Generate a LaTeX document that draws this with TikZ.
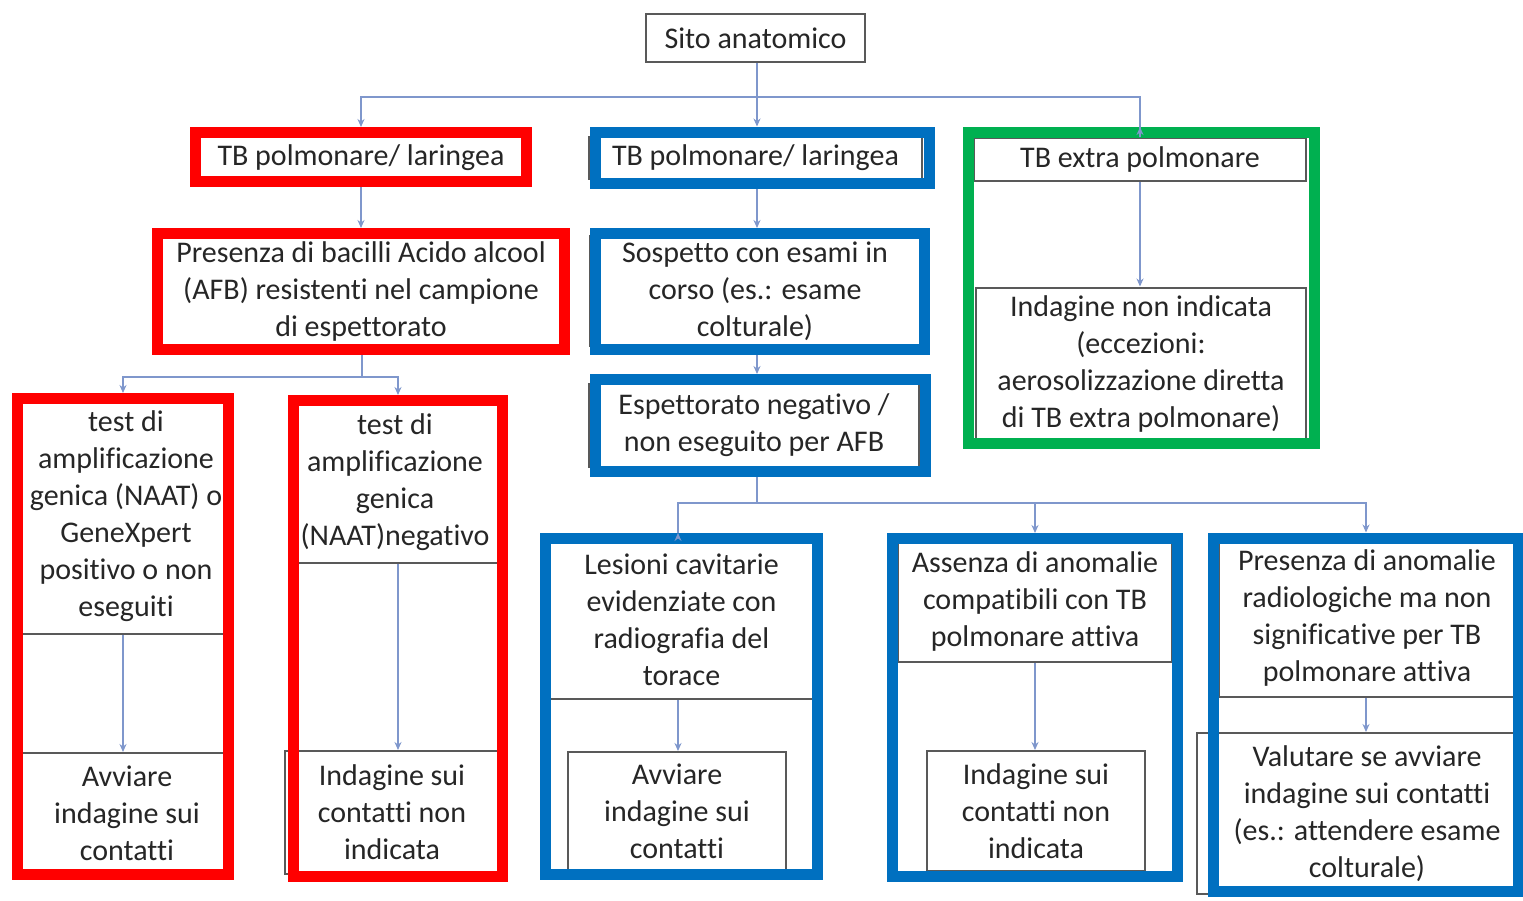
\documentclass[tikz,border=0pt]{standalone}
\usepackage{fontspec}
\setmainfont{Carlito}[Ligatures={NoCommon}]
\usetikzlibrary{arrows.meta}
\definecolor{frRed}{HTML}{FF0000}
\definecolor{frBlue}{HTML}{0070C0}
\definecolor{frGreen}{HTML}{00B050}
\definecolor{conncol}{HTML}{7F97CC}
\definecolor{boxline}{HTML}{595959}
\definecolor{txt}{HTML}{262626}
\tikzset{
  gbox/.style={draw=boxline, line width=2pt, fill=white, align=center, inner sep=0pt,
    text=txt, font=\fontsize{30}{37}\selectfont},
  frame/.style={draw=#1, line width=11pt, inner sep=0pt},
  conn/.style={draw=conncol, line width=1.8pt, -{Stealth[length=8pt,width=7pt]}},
  connl/.style={draw=conncol, line width=1.8pt},
}
\begin{document}
\begin{tikzpicture}[x=1pt,y=-1pt]
\clip (0,0) rectangle (1523,900);
\fill[white] (0,0) rectangle (1523,900);

% ---------- gray boxes ----------
\node[gbox, minimum width=219, minimum height=48] (sito) at (755.5,38) {Sito anatomico};

\node[gbox, minimum width=326, minimum height=45] (tbr) at (361,157.5) {TB polmonare/ laringea};
\node[gbox, minimum width=333, minimum height=42] (tbb) at (755.5,158) {TB polmonare/ laringea};
\node[gbox, minimum width=332, minimum height=43] (tbx) at (1140,159.5) {TB extra polmonare};
\node[gbox, minimum width=330, minimum height=153] (indx) at (1141,364)
  {\raisebox{-4pt}{\parbox{330pt}{\centering Indagine non indicata\\(eccezioni:\\aerosolizzazione diretta\\di TB extra polmonare)}}};

\node[gbox, minimum width=400, minimum height=109] (afb) at (361,291)
  {Presenza di bacilli Acido alcool\\(AFB) resistenti nel campione\\di espettorato};
\node[gbox, minimum width=331, minimum height=110] (sosp) at (755,291)
  {Sospetto con esami in\\corso (es.: esame\\colturale)};
\node[gbox, minimum width=330, minimum height=83] (esp) at (754,425.5)
  {Espettorato negativo /\\non eseguito per AFB};

\node[gbox, minimum width=213, minimum height=235] (naatp) at (126,516.5)
  {test di\\amplificazione\\genica (NAAT) o\\GeneXpert\\positivo o non\\eseguiti};
\node[gbox, minimum width=210, minimum height=121] (avv1) at (127,813.5)
  {Avviare\\indagine sui\\contatti};
\node[gbox, minimum width=210, minimum height=161] (naatn) at (395,482)
  {test di\\amplificazione\\genica\\(NAAT)negativo};
\node[gbox, minimum width=214, minimum height=123] (ind1) at (392,812.5)
  {Indagine sui\\contatti non\\indicata};

\node[gbox, minimum width=265, minimum height=158] (les) at (681.5,620)
  {Lesioni cavitarie\\evidenziate con\\radiografia del\\torace};
\node[gbox, minimum width=218, minimum height=118] (avv2) at (677,811)
  {Avviare\\indagine sui\\contatti};
\node[gbox, minimum width=274, minimum height=121] (ass) at (1035,601.5)
  {Assenza di anomalie\\compatibili con TB\\polmonare attiva};
\node[gbox, minimum width=218, minimum height=120] (ind2) at (1036,811)
  {Indagine sui\\contatti non\\indicata};
\node[gbox, minimum width=296, minimum height=158] (pa) at (1367,618)
  {Presenza di anomalie\\radiologiche ma non\\significative per TB\\polmonare attiva};
\node[gbox, minimum width=340, minimum height=161] (val) at (1367,813.5)
  {Valutare se avviare\\indagine sui contatti\\(es.: attendere esame\\colturale)};

% ---------- highlight frames ----------
\node[frame=frRed, minimum width=331, minimum height=49] (fTBr) at (361,157) {};
\node[frame=frBlue, minimum width=334, minimum height=51] (fTBb) at (762,157.5) {};
\node[frame=frGreen, minimum width=346, minimum height=311] (fTBx) at (1141.5,288) {};

\node[frame=frRed, minimum width=407, minimum height=116] (fAFB) at (361,291.5) {};
\node[frame=frBlue, minimum width=329, minimum height=116] (fSosp) at (760,291.5) {};
\node[frame=frBlue, minimum width=330, minimum height=92] (fEsp) at (760,425.5) {};

\node[frame=frRed, minimum width=211, minimum height=476] (fNp) at (123,636.5) {};
\node[frame=frRed, minimum width=209, minimum height=476] (fNn) at (398,638.5) {};
\node[frame=frBlue, minimum width=272, minimum height=336] (fLes) at (681.5,706.5) {};
\node[frame=frBlue, minimum width=285, minimum height=338] (fAss) at (1035,707.5) {};
\node[frame=frBlue, minimum width=305, minimum height=353] (fPa) at (1366,714.5) {};

% ---------- connectors ----------
\coordinate (j1) at (757,97);
\draw[connl] (sito.south -| j1) -- (j1);
\draw[conn] (j1) -| (fTBr.north);
\draw[conn] (j1) -- (j1 |- fTBb.north);
\draw[conn] (j1) -| (tbx.north -| 1140,0) -- (1140,0 |- fTBx.north);

\draw[conn] (fTBr.south) -- (fAFB.north);
\draw[conn] (j1 |- fTBb.south) -- (j1 |- fSosp.north);
\draw[conn] (1140,0 |- tbx.south) -- (1140,0 |- indx.north);

\coordinate (j2) at (362,377);
\draw[connl] (fAFB.south -| j2) -- (j2);
\draw[conn] (j2) -| (fNp.north);
\draw[conn] (j2) -| (fNn.north);

\draw[conn] (j1 |- fSosp.south) -- (j1 |- fEsp.north);

\coordinate (j3) at (757,503);
\draw[connl] (j1 |- fEsp.south) -- (j3);
\draw[conn] (j3) -| (fLes.north -| 678,0) -- (678,0 |- fLes.north);
\draw[conn] (j3) -| (fAss.north);
\draw[conn] (j3) -| (fPa.north);

\draw[conn] (naatp.south -| fNp.north) -- (avv1.north -| fNp.north);
\draw[conn] (naatn.south -| fNn.north) -- (ind1.north -| fNn.north);
\draw[conn] (les.south -| 678,0) -- (678,0 |- avv2.north);
\draw[conn] (ass.south) -- (ass.south |- ind2.north);
\draw[conn] (pa.south -| fPa.north) -- (val.north -| fPa.north);
\end{tikzpicture}
\end{document}
